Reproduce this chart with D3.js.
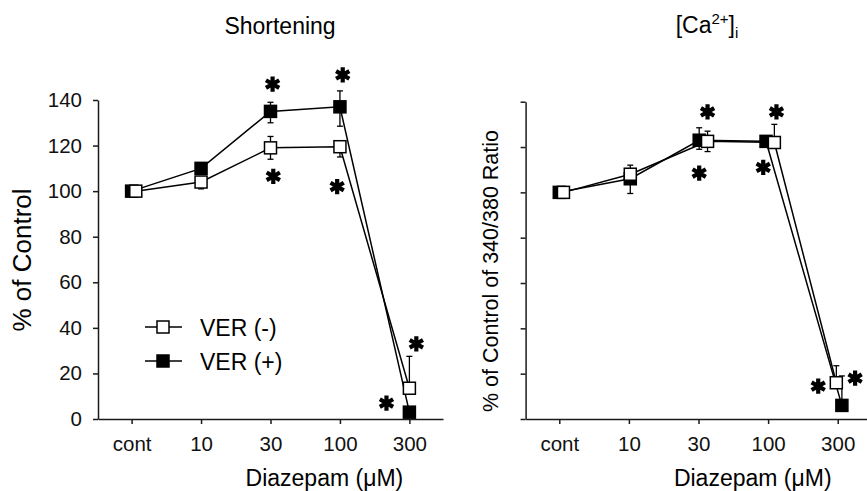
<!DOCTYPE html>
<html>
<head>
<meta charset="utf-8">
<script src="https://cdn.jsdelivr.net/npm/d3@7"></script>
<style>
  body { margin: 0; background: #fff; }
  svg { font-family: "Liberation Sans", Arial, Helvetica, sans-serif; }
</style>
</head>
<body>
<div id="chart"></div>
<script>
// doses on the x axis
let doses = ["cont", "10", "30", "100", "300"];
let yTicks = [0, 20, 40, 60, 80, 100, 120, 140];

// Shortening panel (% of control)
let shortOpen = [100, 104, 119, 119.5, 13.5];      // VER (-)
let shortOpenUp = [0, 0, 5, 0, 14];
let shortOpenDown = [0, 3, 5, 4.5, 0];
let shortFilled = [100, 110, 135, 137, 3];         // VER (+)
let shortFilledUp = [0, 0, 4, 7, 0];
let shortFilledDown = [0, 0, 5, 8.5, 0];
// asterisks: [dose index, value]
let shortStars = [[2.03, 147], [2.04, 106.5], [3.04, 151], [2.96, 102], [4.1, 33], [3.67, 7]];

// [Ca2+]i panel (% of control of 340/380 ratio)
let caOpen = [100, 108, 122.5, 122, 16];
let caOpenUp = [0, 4, 4.5, 8, 7.5];
let caOpenDown = [0, 0, 4.5, 0, 0];
let caFilled = [100, 106, 123, 122.5, 6];
let caFilledUp = [0, 0, 5.5, 0, 13];
let caFilledDown = [0, 6.5, 4, 0, 0];
let caStars = [[2.13, 135.5], [2.01, 108.5], [3.12, 135.5], [2.93, 111], [3.72, 14.5], [4.25, 18]];

let svg = d3.select("#chart").append("svg")
  .attr("width", 867)
  .attr("height", 491);

function drawPanel(opt) {
  let x = d3.scaleLinear().domain([-0.484, 4.484]).range(opt.xRange);
  let y = d3.scaleLinear().domain([0, 140]).range(opt.yRange);
  let g = svg.append("g");

  let yAxis = d3.axisLeft(y).tickValues(yTicks).tickSize(5).tickSizeOuter(0).tickPadding(11);
  if (!opt.yLabels) yAxis.tickFormat("");
  let ya = g.append("g").attr("transform", "translate(" + opt.xRange[0] + ",0)").call(yAxis);

  let xAxis = d3.axisBottom(x).tickValues(d3.range(5)).tickFormat(i => doses[i])
    .tickSize(5).tickSizeOuter(0).tickPadding(12);
  let xa = g.append("g").attr("transform", "translate(0," + opt.yRange[0] + ")").call(xAxis);

  [ya, xa].forEach(a => {
    a.selectAll("path, line").attr("stroke", "#1a1a1a").attr("stroke-width", 1.5);
    a.selectAll("text").attr("font-size", 20.5).attr("fill", "#111");
  });

  let series = [
    {v: opt.filled, up: opt.filledUp, down: opt.filledDown, fill: "#000", jit: opt.filledJit},
    {v: opt.open, up: opt.openUp, down: opt.openDown, fill: "#fff", jit: opt.openJit}
  ];

  series.forEach(s => {
    let pts = s.v.map((d, i) => ({i: i + s.jit[i], v: d, up: s.up[i], down: s.down[i]}));
    g.append("path")
      .datum(pts)
      .attr("fill", "none")
      .attr("stroke", "#000")
      .attr("stroke-width", 1.5)
      .attr("d", d3.line().x(d => x(d.i)).y(d => y(d.v)));

    let eb = g.selectAll(null).data(pts.filter(d => d.up || d.down)).enter().append("g")
      .attr("stroke", "#000").attr("stroke-width", 1.3);
    eb.append("line")
      .attr("x1", d => x(d.i)).attr("x2", d => x(d.i))
      .attr("y1", d => y(d.v - d.down)).attr("y2", d => y(d.v + d.up));
    eb.filter(d => d.up).append("line")
      .attr("x1", d => x(d.i) - 3).attr("x2", d => x(d.i) + 3)
      .attr("y1", d => y(d.v + d.up)).attr("y2", d => y(d.v + d.up));
    eb.filter(d => d.down).append("line")
      .attr("x1", d => x(d.i) - 3).attr("x2", d => x(d.i) + 3)
      .attr("y1", d => y(d.v - d.down)).attr("y2", d => y(d.v - d.down));

    g.selectAll(null).data(pts).enter().append("rect")
      .attr("x", d => x(d.i) - 6)
      .attr("y", d => y(d.v) - 6)
      .attr("width", 12)
      .attr("height", 12)
      .attr("fill", s.fill)
      .attr("stroke", "#000")
      .attr("stroke-width", 1.5);
  });

  g.selectAll(".star").data(opt.stars).enter().append("path")
    .attr("class", "star")
    .attr("transform", d => "translate(" + x(d[0]) + "," + y(d[1]) + ")")
    .attr("d", d3.symbol(d3.symbolAsterisk, 165)())
    .attr("fill", "none")
    .attr("stroke", "#000")
    .attr("stroke-width", 4.2);

  g.append("text")
    .attr("x", x(4) - 85)
    .attr("y", 486)
    .attr("text-anchor", "middle")
    .attr("font-size", 23)
    .text("Diazepam (\u03bcM)");

  return {x: x, y: y, g: g};
}

let left = drawPanel({
  xRange: [98, 443], yRange: [419, 100], yLabels: true,
  open: shortOpen, openUp: shortOpenUp, openDown: shortOpenDown, openJit: [0.06, 0, 0, 0, 0],
  filled: shortFilled, filledUp: shortFilledUp, filledDown: shortFilledDown, filledJit: [0, 0, 0, 0, 0],
  stars: shortStars
});

let right = drawPanel({
  xRange: [525.6, 871.4], yRange: [419, 101.7], yLabels: false,
  open: caOpen, openUp: caOpenUp, openDown: caOpenDown, openJit: [0.06, 0.02, 0.13, 0.09, -0.02],
  filled: caFilled, filledUp: caFilledUp, filledDown: caFilledDown, filledJit: [0, 0.02, 0.01, -0.03, 0.06],
  stars: caStars
});

// titles
svg.append("text")
  .attr("x", 280).attr("y", 34)
  .attr("text-anchor", "middle")
  .attr("font-size", 23)
  .text("Shortening");

let ca = svg.append("text")
  .attr("x", 707).attr("y", 33)
  .attr("text-anchor", "middle")
  .attr("font-size", 23);
ca.append("tspan").text("[Ca");
ca.append("tspan").attr("font-size", 15).attr("dy", -9).text("2+");
ca.append("tspan").attr("dy", 9).text("]");
ca.append("tspan").attr("font-size", 15).attr("dy", 5).text("i");

// y axis titles
svg.append("text")
  .attr("transform", "translate(31,260) rotate(-90)")
  .attr("text-anchor", "middle")
  .attr("font-size", 26)
  .text("% of Control");

svg.append("text")
  .attr("transform", "translate(498,271) rotate(-90)")
  .attr("text-anchor", "middle")
  .attr("font-size", 21.5)
  .text("% of Control of 340/380 Ratio");

// legend
let legend = svg.append("g");
let legendItems = [{label: "VER (-)", fill: "#fff"}, {label: "VER (+)", fill: "#000"}];
legendItems.forEach((d, k) => {
  let ly = 327 + k * 34;
  legend.append("line")
    .attr("x1", 145).attr("x2", 182).attr("y1", ly).attr("y2", ly)
    .attr("stroke", "#000").attr("stroke-width", 1.5);
  legend.append("rect")
    .attr("x", 157).attr("y", ly - 6).attr("width", 12).attr("height", 12)
    .attr("fill", d.fill).attr("stroke", "#000").attr("stroke-width", 1.5);
  legend.append("text")
    .attr("x", 200).attr("y", ly + 9)
    .attr("font-size", 23)
    .text(d.label);
});
</script>
</body>
</html>
